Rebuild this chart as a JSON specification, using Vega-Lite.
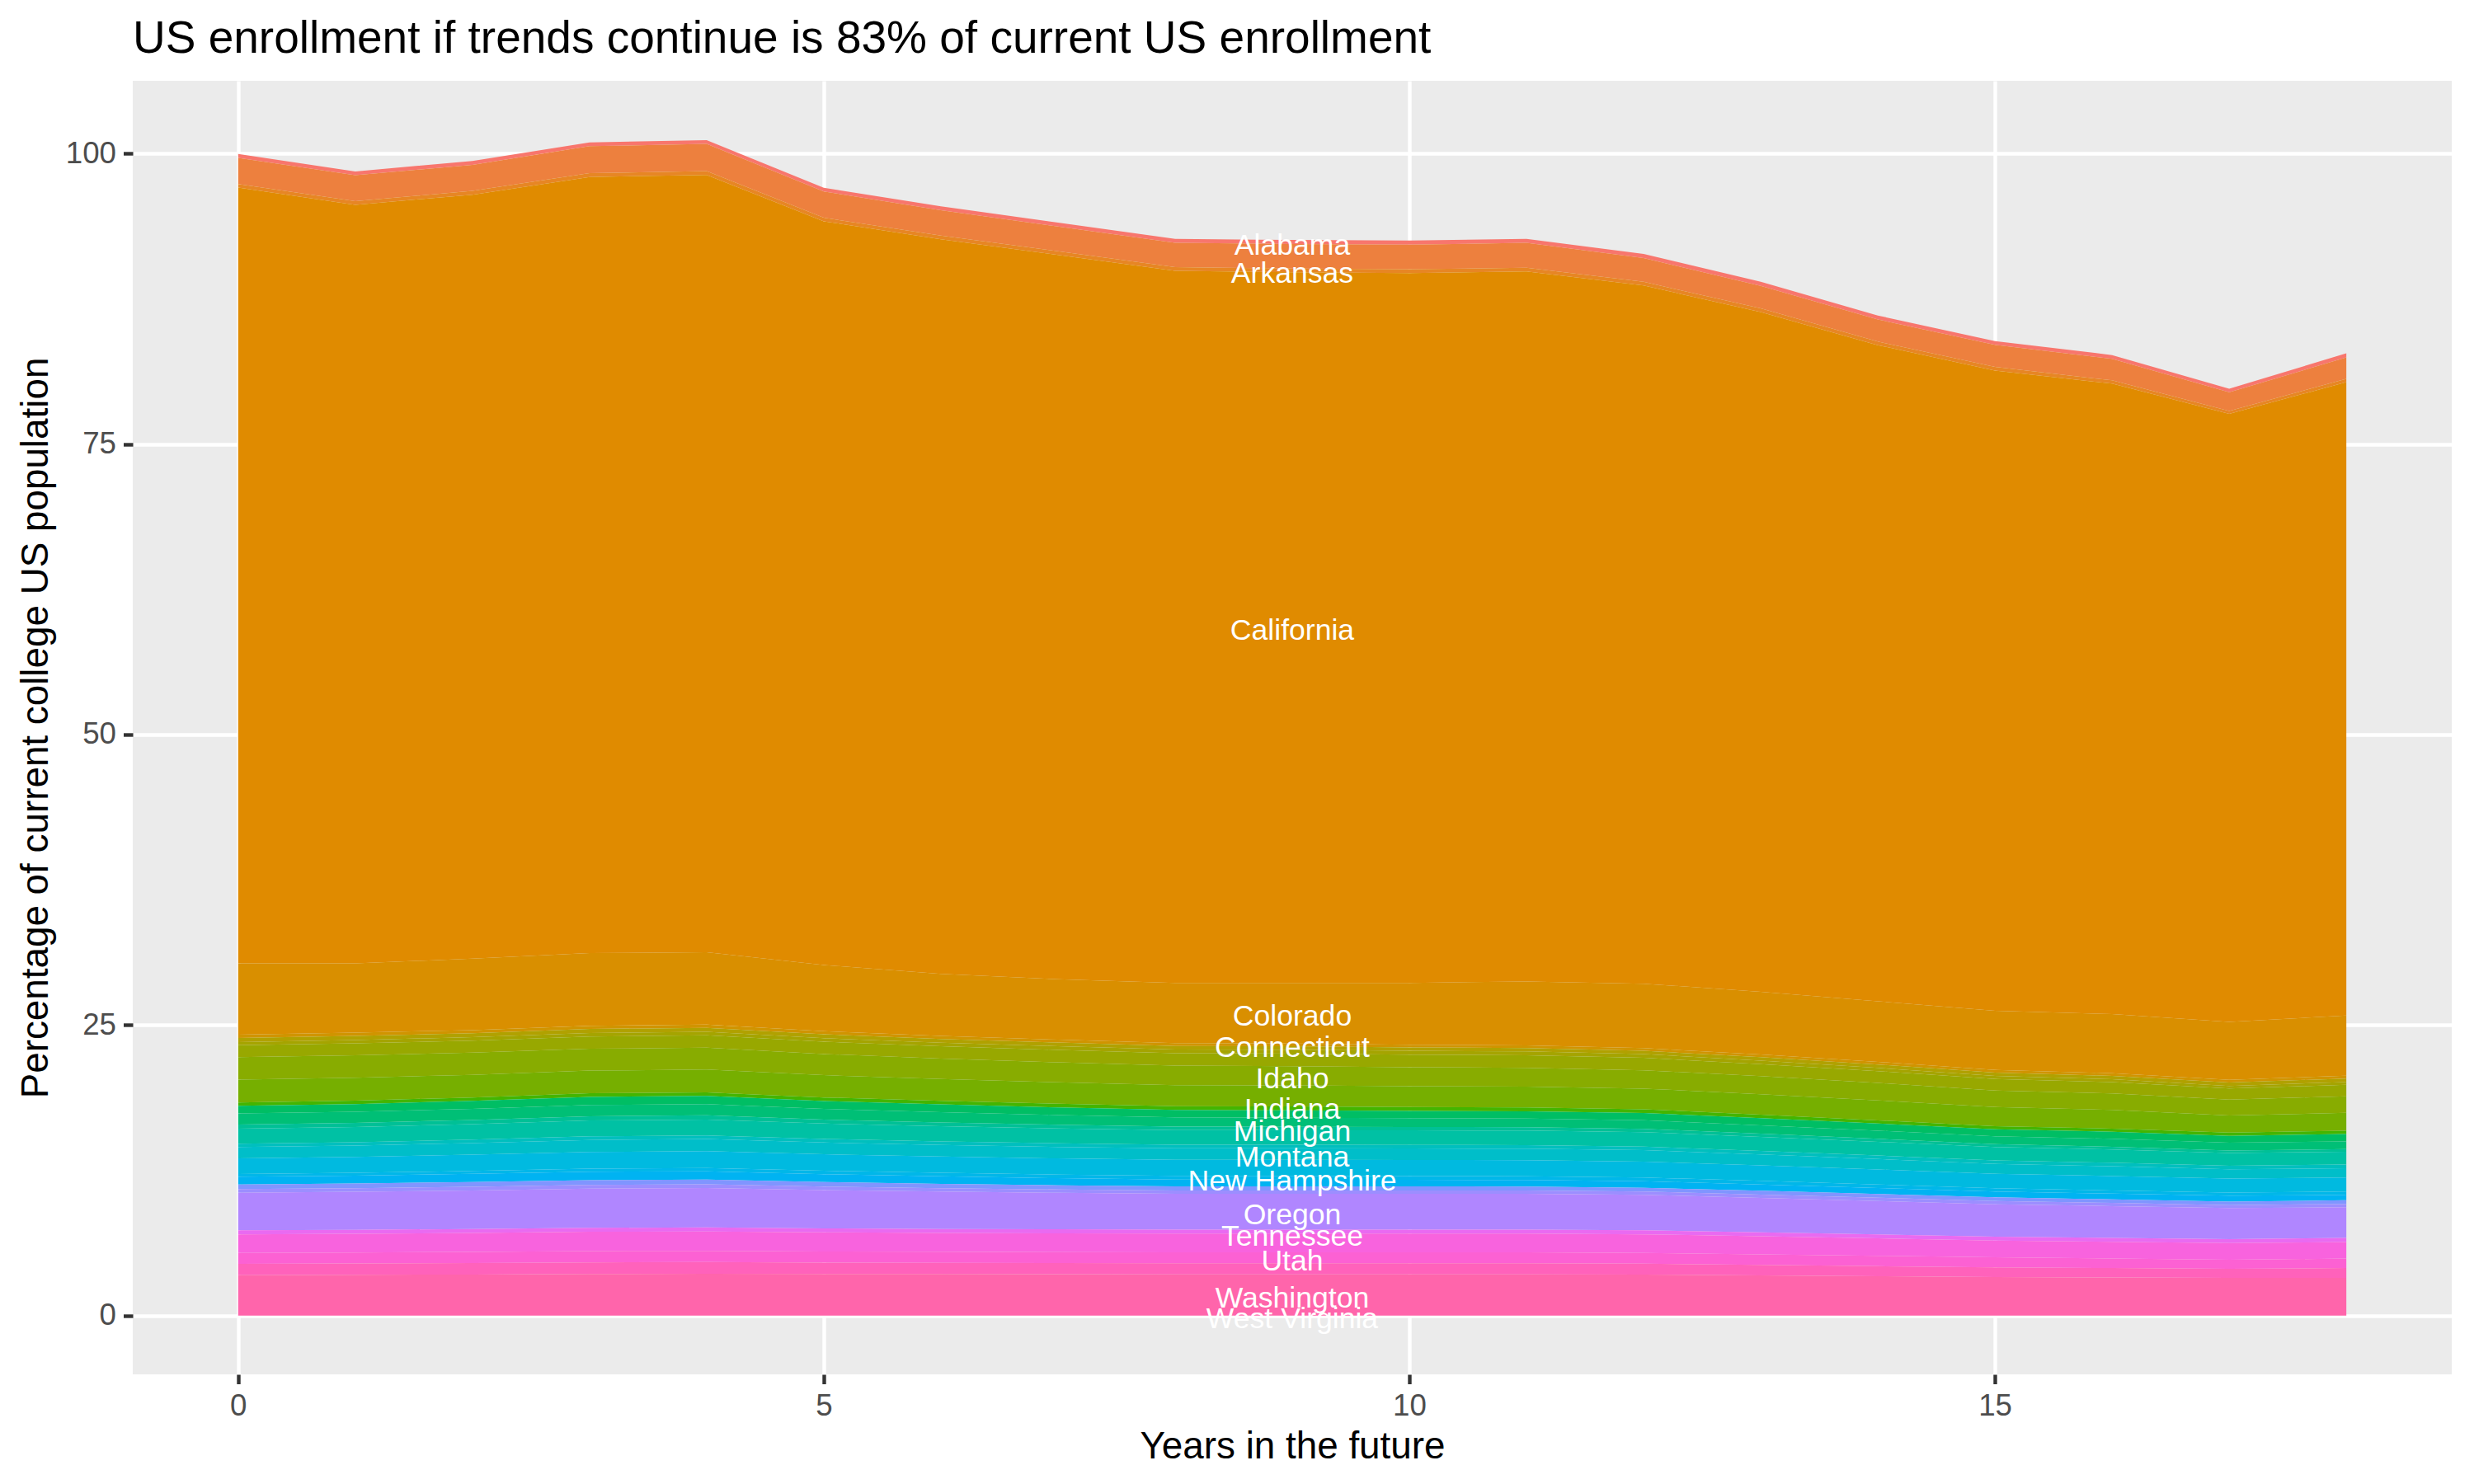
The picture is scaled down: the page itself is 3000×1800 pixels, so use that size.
{
  "$schema": "https://vega.github.io/schema/vega-lite/v6.json",
  "width": 2812,
  "height": 1569,
  "autosize": {"type": "none"},
  "padding": {"left": 161, "top": 98, "right": 27, "bottom": 133},
  "background": "white",
  "config": {
    "view": {"fill": "#EBEBEB", "stroke": null},
    "font": "Liberation Sans",
    "axis": {
      "labelFont": "Liberation Sans",
      "titleFont": "Liberation Sans",
      "labelFontSize": 36.7,
      "labelColor": "#4D4D4D",
      "titleFontSize": 45.8,
      "titleFontWeight": "normal",
      "titleColor": "black",
      "tickColor": "#333333",
      "tickSize": 11.5,
      "tickWidth": 4.4,
      "labelPadding": 9,
      "domain": false,
      "grid": true,
      "gridColor": "white",
      "gridWidth": 4.4
    }
  },
  "title": {
    "text": "US enrollment if trends continue is 83% of current US enrollment",
    "anchor": "start",
    "frame": "group",
    "font": "Liberation Sans",
    "fontSize": 55,
    "fontWeight": "normal",
    "color": "black",
    "baseline": "alphabetic",
    "offset": 34.5,
    "dy": 55
  },
  "data": {
    "values": [
      {"state": "Alabama", "year": 0, "pct": 0.33}, {"state": "Alabama", "year": 1, "pct": 0.33}, {"state": "Alabama", "year": 2, "pct": 0.33}, {"state": "Alabama", "year": 3, "pct": 0.33}, {"state": "Alabama", "year": 4, "pct": 0.33}, {"state": "Alabama", "year": 5, "pct": 0.33}, {"state": "Alabama", "year": 6, "pct": 0.34}, {"state": "Alabama", "year": 7, "pct": 0.34}, {"state": "Alabama", "year": 8, "pct": 0.35}, {"state": "Alabama", "year": 9, "pct": 0.35}, {"state": "Alabama", "year": 10, "pct": 0.35}, {"state": "Alabama", "year": 11, "pct": 0.35}, {"state": "Alabama", "year": 12, "pct": 0.35}, {"state": "Alabama", "year": 13, "pct": 0.35}, {"state": "Alabama", "year": 14, "pct": 0.34}, {"state": "Alabama", "year": 15, "pct": 0.33}, {"state": "Alabama", "year": 16, "pct": 0.33}, {"state": "Alabama", "year": 17, "pct": 0.31}, {"state": "Alabama", "year": 18, "pct": 0.35},
      {"state": "Arizona", "year": 0, "pct": 2.25}, {"state": "Arizona", "year": 1, "pct": 2.22}, {"state": "Arizona", "year": 2, "pct": 2.25}, {"state": "Arizona", "year": 3, "pct": 2.32}, {"state": "Arizona", "year": 4, "pct": 2.34}, {"state": "Arizona", "year": 5, "pct": 2.25}, {"state": "Arizona", "year": 6, "pct": 2.18}, {"state": "Arizona", "year": 7, "pct": 2.12}, {"state": "Arizona", "year": 8, "pct": 2.08}, {"state": "Arizona", "year": 9, "pct": 2.1}, {"state": "Arizona", "year": 10, "pct": 2.12}, {"state": "Arizona", "year": 11, "pct": 2.13}, {"state": "Arizona", "year": 12, "pct": 2.05}, {"state": "Arizona", "year": 13, "pct": 1.94}, {"state": "Arizona", "year": 14, "pct": 1.9}, {"state": "Arizona", "year": 15, "pct": 1.89}, {"state": "Arizona", "year": 16, "pct": 1.85}, {"state": "Arizona", "year": 17, "pct": 1.6}, {"state": "Arizona", "year": 18, "pct": 1.85},
      {"state": "Arkansas", "year": 0, "pct": 0.31}, {"state": "Arkansas", "year": 1, "pct": 0.33}, {"state": "Arkansas", "year": 2, "pct": 0.32}, {"state": "Arkansas", "year": 3, "pct": 0.33}, {"state": "Arkansas", "year": 4, "pct": 0.33}, {"state": "Arkansas", "year": 5, "pct": 0.31}, {"state": "Arkansas", "year": 6, "pct": 0.32}, {"state": "Arkansas", "year": 7, "pct": 0.33}, {"state": "Arkansas", "year": 8, "pct": 0.33}, {"state": "Arkansas", "year": 9, "pct": 0.33}, {"state": "Arkansas", "year": 10, "pct": 0.33}, {"state": "Arkansas", "year": 11, "pct": 0.33}, {"state": "Arkansas", "year": 12, "pct": 0.32}, {"state": "Arkansas", "year": 13, "pct": 0.31}, {"state": "Arkansas", "year": 14, "pct": 0.31}, {"state": "Arkansas", "year": 15, "pct": 0.31}, {"state": "Arkansas", "year": 16, "pct": 0.28}, {"state": "Arkansas", "year": 17, "pct": 0.26}, {"state": "Arkansas", "year": 18, "pct": 0.28},
      {"state": "California", "year": 0, "pct": 66.76}, {"state": "California", "year": 1, "pct": 65.27}, {"state": "California", "year": 2, "pct": 65.75}, {"state": "California", "year": 3, "pct": 66.79}, {"state": "California", "year": 4, "pct": 66.9}, {"state": "California", "year": 5, "pct": 64.0}, {"state": "California", "year": 6, "pct": 63.21}, {"state": "California", "year": 7, "pct": 62.33}, {"state": "California", "year": 8, "pct": 61.27}, {"state": "California", "year": 9, "pct": 61.15}, {"state": "California", "year": 10, "pct": 61.08}, {"state": "California", "year": 11, "pct": 61.1}, {"state": "California", "year": 12, "pct": 60.08}, {"state": "California", "year": 13, "pct": 58.5}, {"state": "California", "year": 14, "pct": 56.46}, {"state": "California", "year": 15, "pct": 55.11}, {"state": "California", "year": 16, "pct": 54.26}, {"state": "California", "year": 17, "pct": 52.32}, {"state": "California", "year": 18, "pct": 54.51},
      {"state": "Colorado", "year": 0, "pct": 6.13}, {"state": "Colorado", "year": 1, "pct": 5.96}, {"state": "Colorado", "year": 2, "pct": 6.14}, {"state": "Colorado", "year": 3, "pct": 6.25}, {"state": "Colorado", "year": 4, "pct": 6.22}, {"state": "Colorado", "year": 5, "pct": 5.7}, {"state": "Colorado", "year": 6, "pct": 5.35}, {"state": "Colorado", "year": 7, "pct": 5.2}, {"state": "Colorado", "year": 8, "pct": 5.19}, {"state": "Colorado", "year": 9, "pct": 5.22}, {"state": "Colorado", "year": 10, "pct": 5.32}, {"state": "Colorado", "year": 11, "pct": 5.5}, {"state": "Colorado", "year": 12, "pct": 5.54}, {"state": "Colorado", "year": 13, "pct": 5.4}, {"state": "Colorado", "year": 14, "pct": 5.22}, {"state": "Colorado", "year": 15, "pct": 5.08}, {"state": "Colorado", "year": 16, "pct": 5.08}, {"state": "Colorado", "year": 17, "pct": 4.99}, {"state": "Colorado", "year": 18, "pct": 5.18},
      {"state": "Connecticut", "year": 0, "pct": 0.29}, {"state": "Connecticut", "year": 1, "pct": 0.29}, {"state": "Connecticut", "year": 2, "pct": 0.28}, {"state": "Connecticut", "year": 3, "pct": 0.28}, {"state": "Connecticut", "year": 4, "pct": 0.28}, {"state": "Connecticut", "year": 5, "pct": 0.27}, {"state": "Connecticut", "year": 6, "pct": 0.26}, {"state": "Connecticut", "year": 7, "pct": 0.25}, {"state": "Connecticut", "year": 8, "pct": 0.24}, {"state": "Connecticut", "year": 9, "pct": 0.24}, {"state": "Connecticut", "year": 10, "pct": 0.23}, {"state": "Connecticut", "year": 11, "pct": 0.23}, {"state": "Connecticut", "year": 12, "pct": 0.23}, {"state": "Connecticut", "year": 13, "pct": 0.23}, {"state": "Connecticut", "year": 14, "pct": 0.23}, {"state": "Connecticut", "year": 15, "pct": 0.23}, {"state": "Connecticut", "year": 16, "pct": 0.23}, {"state": "Connecticut", "year": 17, "pct": 0.23}, {"state": "Connecticut", "year": 18, "pct": 0.24},
      {"state": "Florida", "year": 0, "pct": 0.35}, {"state": "Florida", "year": 1, "pct": 0.35}, {"state": "Florida", "year": 2, "pct": 0.34}, {"state": "Florida", "year": 3, "pct": 0.34}, {"state": "Florida", "year": 4, "pct": 0.34}, {"state": "Florida", "year": 5, "pct": 0.33}, {"state": "Florida", "year": 6, "pct": 0.32}, {"state": "Florida", "year": 7, "pct": 0.31}, {"state": "Florida", "year": 8, "pct": 0.3}, {"state": "Florida", "year": 9, "pct": 0.3}, {"state": "Florida", "year": 10, "pct": 0.3}, {"state": "Florida", "year": 11, "pct": 0.29}, {"state": "Florida", "year": 12, "pct": 0.29}, {"state": "Florida", "year": 13, "pct": 0.29}, {"state": "Florida", "year": 14, "pct": 0.29}, {"state": "Florida", "year": 15, "pct": 0.29}, {"state": "Florida", "year": 16, "pct": 0.29}, {"state": "Florida", "year": 17, "pct": 0.29}, {"state": "Florida", "year": 18, "pct": 0.3},
      {"state": "Georgia", "year": 0, "pct": 0.28}, {"state": "Georgia", "year": 1, "pct": 0.28}, {"state": "Georgia", "year": 2, "pct": 0.29}, {"state": "Georgia", "year": 3, "pct": 0.3}, {"state": "Georgia", "year": 4, "pct": 0.3}, {"state": "Georgia", "year": 5, "pct": 0.3}, {"state": "Georgia", "year": 6, "pct": 0.31}, {"state": "Georgia", "year": 7, "pct": 0.32}, {"state": "Georgia", "year": 8, "pct": 0.32}, {"state": "Georgia", "year": 9, "pct": 0.33}, {"state": "Georgia", "year": 10, "pct": 0.33}, {"state": "Georgia", "year": 11, "pct": 0.33}, {"state": "Georgia", "year": 12, "pct": 0.32}, {"state": "Georgia", "year": 13, "pct": 0.3}, {"state": "Georgia", "year": 14, "pct": 0.28}, {"state": "Georgia", "year": 15, "pct": 0.26}, {"state": "Georgia", "year": 16, "pct": 0.25}, {"state": "Georgia", "year": 17, "pct": 0.22}, {"state": "Georgia", "year": 18, "pct": 0.24},
      {"state": "Hawaii", "year": 0, "pct": 1.02}, {"state": "Hawaii", "year": 1, "pct": 1.03}, {"state": "Hawaii", "year": 2, "pct": 1.04}, {"state": "Hawaii", "year": 3, "pct": 1.06}, {"state": "Hawaii", "year": 4, "pct": 1.07}, {"state": "Hawaii", "year": 5, "pct": 1.06}, {"state": "Hawaii", "year": 6, "pct": 1.06}, {"state": "Hawaii", "year": 7, "pct": 1.07}, {"state": "Hawaii", "year": 8, "pct": 1.07}, {"state": "Hawaii", "year": 9, "pct": 1.08}, {"state": "Hawaii", "year": 10, "pct": 1.08}, {"state": "Hawaii", "year": 11, "pct": 1.08}, {"state": "Hawaii", "year": 12, "pct": 1.07}, {"state": "Hawaii", "year": 13, "pct": 1.04}, {"state": "Hawaii", "year": 14, "pct": 1.01}, {"state": "Hawaii", "year": 15, "pct": 0.99}, {"state": "Hawaii", "year": 16, "pct": 0.98}, {"state": "Hawaii", "year": 17, "pct": 0.95}, {"state": "Hawaii", "year": 18, "pct": 0.99},
      {"state": "Idaho", "year": 0, "pct": 1.94}, {"state": "Idaho", "year": 1, "pct": 1.93}, {"state": "Idaho", "year": 2, "pct": 1.9}, {"state": "Idaho", "year": 3, "pct": 1.88}, {"state": "Idaho", "year": 4, "pct": 1.88}, {"state": "Idaho", "year": 5, "pct": 1.82}, {"state": "Idaho", "year": 6, "pct": 1.76}, {"state": "Idaho", "year": 7, "pct": 1.72}, {"state": "Idaho", "year": 8, "pct": 1.68}, {"state": "Idaho", "year": 9, "pct": 1.66}, {"state": "Idaho", "year": 10, "pct": 1.63}, {"state": "Idaho", "year": 11, "pct": 1.61}, {"state": "Idaho", "year": 12, "pct": 1.58}, {"state": "Idaho", "year": 13, "pct": 1.55}, {"state": "Idaho", "year": 14, "pct": 1.5}, {"state": "Idaho", "year": 15, "pct": 1.42}, {"state": "Idaho", "year": 16, "pct": 1.42}, {"state": "Idaho", "year": 17, "pct": 1.37}, {"state": "Idaho", "year": 18, "pct": 1.43},
      {"state": "Illinois", "year": 0, "pct": 1.97}, {"state": "Illinois", "year": 1, "pct": 1.98}, {"state": "Illinois", "year": 2, "pct": 1.95}, {"state": "Illinois", "year": 3, "pct": 1.95}, {"state": "Illinois", "year": 4, "pct": 1.96}, {"state": "Illinois", "year": 5, "pct": 1.92}, {"state": "Illinois", "year": 6, "pct": 1.87}, {"state": "Illinois", "year": 7, "pct": 1.84}, {"state": "Illinois", "year": 8, "pct": 1.82}, {"state": "Illinois", "year": 9, "pct": 1.81}, {"state": "Illinois", "year": 10, "pct": 1.8}, {"state": "Illinois", "year": 11, "pct": 1.8}, {"state": "Illinois", "year": 12, "pct": 1.78}, {"state": "Illinois", "year": 13, "pct": 1.76}, {"state": "Illinois", "year": 14, "pct": 1.72}, {"state": "Illinois", "year": 15, "pct": 1.66}, {"state": "Illinois", "year": 16, "pct": 1.6}, {"state": "Illinois", "year": 17, "pct": 1.47}, {"state": "Illinois", "year": 18, "pct": 1.53},
      {"state": "Indiana", "year": 0, "pct": 0}, {"state": "Indiana", "year": 1, "pct": 0}, {"state": "Indiana", "year": 2, "pct": 0}, {"state": "Indiana", "year": 3, "pct": 0}, {"state": "Indiana", "year": 4, "pct": 0}, {"state": "Indiana", "year": 5, "pct": 0}, {"state": "Indiana", "year": 6, "pct": 0}, {"state": "Indiana", "year": 7, "pct": 0}, {"state": "Indiana", "year": 8, "pct": 0}, {"state": "Indiana", "year": 9, "pct": 0}, {"state": "Indiana", "year": 10, "pct": 0}, {"state": "Indiana", "year": 11, "pct": 0}, {"state": "Indiana", "year": 12, "pct": 0}, {"state": "Indiana", "year": 13, "pct": 0}, {"state": "Indiana", "year": 14, "pct": 0}, {"state": "Indiana", "year": 15, "pct": 0}, {"state": "Indiana", "year": 16, "pct": 0}, {"state": "Indiana", "year": 17, "pct": 0}, {"state": "Indiana", "year": 18, "pct": 0},
      {"state": "Iowa", "year": 0, "pct": 0.28}, {"state": "Iowa", "year": 1, "pct": 0.29}, {"state": "Iowa", "year": 2, "pct": 0.3}, {"state": "Iowa", "year": 3, "pct": 0.31}, {"state": "Iowa", "year": 4, "pct": 0.31}, {"state": "Iowa", "year": 5, "pct": 0.31}, {"state": "Iowa", "year": 6, "pct": 0.31}, {"state": "Iowa", "year": 7, "pct": 0.32}, {"state": "Iowa", "year": 8, "pct": 0.32}, {"state": "Iowa", "year": 9, "pct": 0.33}, {"state": "Iowa", "year": 10, "pct": 0.33}, {"state": "Iowa", "year": 11, "pct": 0.33}, {"state": "Iowa", "year": 12, "pct": 0.32}, {"state": "Iowa", "year": 13, "pct": 0.3}, {"state": "Iowa", "year": 14, "pct": 0.28}, {"state": "Iowa", "year": 15, "pct": 0.26}, {"state": "Iowa", "year": 16, "pct": 0.27}, {"state": "Iowa", "year": 17, "pct": 0.28}, {"state": "Iowa", "year": 18, "pct": 0.29},
      {"state": "Maine", "year": 0, "pct": 0.66}, {"state": "Maine", "year": 1, "pct": 0.67}, {"state": "Maine", "year": 2, "pct": 0.68}, {"state": "Maine", "year": 3, "pct": 0.7}, {"state": "Maine", "year": 4, "pct": 0.7}, {"state": "Maine", "year": 5, "pct": 0.68}, {"state": "Maine", "year": 6, "pct": 0.67}, {"state": "Maine", "year": 7, "pct": 0.65}, {"state": "Maine", "year": 8, "pct": 0.63}, {"state": "Maine", "year": 9, "pct": 0.63}, {"state": "Maine", "year": 10, "pct": 0.62}, {"state": "Maine", "year": 11, "pct": 0.62}, {"state": "Maine", "year": 12, "pct": 0.62}, {"state": "Maine", "year": 13, "pct": 0.62}, {"state": "Maine", "year": 14, "pct": 0.61}, {"state": "Maine", "year": 15, "pct": 0.6}, {"state": "Maine", "year": 16, "pct": 0.61}, {"state": "Maine", "year": 17, "pct": 0.6}, {"state": "Maine", "year": 18, "pct": 0.64},
      {"state": "Maryland", "year": 0, "pct": 0.95}, {"state": "Maryland", "year": 1, "pct": 0.95}, {"state": "Maryland", "year": 2, "pct": 0.96}, {"state": "Maryland", "year": 3, "pct": 0.97}, {"state": "Maryland", "year": 4, "pct": 0.97}, {"state": "Maryland", "year": 5, "pct": 0.92}, {"state": "Maryland", "year": 6, "pct": 0.88}, {"state": "Maryland", "year": 7, "pct": 0.84}, {"state": "Maryland", "year": 8, "pct": 0.8}, {"state": "Maryland", "year": 9, "pct": 0.78}, {"state": "Maryland", "year": 10, "pct": 0.76}, {"state": "Maryland", "year": 11, "pct": 0.75}, {"state": "Maryland", "year": 12, "pct": 0.74}, {"state": "Maryland", "year": 13, "pct": 0.72}, {"state": "Maryland", "year": 14, "pct": 0.7}, {"state": "Maryland", "year": 15, "pct": 0.68}, {"state": "Maryland", "year": 16, "pct": 0.68}, {"state": "Maryland", "year": 17, "pct": 0.66}, {"state": "Maryland", "year": 18, "pct": 0.66},
      {"state": "Michigan", "year": 0, "pct": 0.35}, {"state": "Michigan", "year": 1, "pct": 0.35}, {"state": "Michigan", "year": 2, "pct": 0.35}, {"state": "Michigan", "year": 3, "pct": 0.36}, {"state": "Michigan", "year": 4, "pct": 0.36}, {"state": "Michigan", "year": 5, "pct": 0.34}, {"state": "Michigan", "year": 6, "pct": 0.33}, {"state": "Michigan", "year": 7, "pct": 0.32}, {"state": "Michigan", "year": 8, "pct": 0.3}, {"state": "Michigan", "year": 9, "pct": 0.3}, {"state": "Michigan", "year": 10, "pct": 0.29}, {"state": "Michigan", "year": 11, "pct": 0.29}, {"state": "Michigan", "year": 12, "pct": 0.28}, {"state": "Michigan", "year": 13, "pct": 0.27}, {"state": "Michigan", "year": 14, "pct": 0.26}, {"state": "Michigan", "year": 15, "pct": 0.25}, {"state": "Michigan", "year": 16, "pct": 0.24}, {"state": "Michigan", "year": 17, "pct": 0.22}, {"state": "Michigan", "year": 18, "pct": 0.22},
      {"state": "Minnesota", "year": 0, "pct": 1.3}, {"state": "Minnesota", "year": 1, "pct": 1.31}, {"state": "Minnesota", "year": 2, "pct": 1.34}, {"state": "Minnesota", "year": 3, "pct": 1.37}, {"state": "Minnesota", "year": 4, "pct": 1.37}, {"state": "Minnesota", "year": 5, "pct": 1.32}, {"state": "Minnesota", "year": 6, "pct": 1.3}, {"state": "Minnesota", "year": 7, "pct": 1.28}, {"state": "Minnesota", "year": 8, "pct": 1.26}, {"state": "Minnesota", "year": 9, "pct": 1.25}, {"state": "Minnesota", "year": 10, "pct": 1.25}, {"state": "Minnesota", "year": 11, "pct": 1.25}, {"state": "Minnesota", "year": 12, "pct": 1.25}, {"state": "Minnesota", "year": 13, "pct": 1.21}, {"state": "Minnesota", "year": 14, "pct": 1.18}, {"state": "Minnesota", "year": 15, "pct": 1.15}, {"state": "Minnesota", "year": 16, "pct": 1.14}, {"state": "Minnesota", "year": 17, "pct": 1.1}, {"state": "Minnesota", "year": 18, "pct": 1.11},
      {"state": "Missouri", "year": 0, "pct": 0.29}, {"state": "Missouri", "year": 1, "pct": 0.29}, {"state": "Missouri", "year": 2, "pct": 0.3}, {"state": "Missouri", "year": 3, "pct": 0.31}, {"state": "Missouri", "year": 4, "pct": 0.31}, {"state": "Missouri", "year": 5, "pct": 0.31}, {"state": "Missouri", "year": 6, "pct": 0.31}, {"state": "Missouri", "year": 7, "pct": 0.31}, {"state": "Missouri", "year": 8, "pct": 0.31}, {"state": "Missouri", "year": 9, "pct": 0.31}, {"state": "Missouri", "year": 10, "pct": 0.31}, {"state": "Missouri", "year": 11, "pct": 0.31}, {"state": "Missouri", "year": 12, "pct": 0.31}, {"state": "Missouri", "year": 13, "pct": 0.31}, {"state": "Missouri", "year": 14, "pct": 0.3}, {"state": "Missouri", "year": 15, "pct": 0.3}, {"state": "Missouri", "year": 16, "pct": 0.3}, {"state": "Missouri", "year": 17, "pct": 0.3}, {"state": "Missouri", "year": 18, "pct": 0.31},
      {"state": "Montana", "year": 0, "pct": 0.97}, {"state": "Montana", "year": 1, "pct": 0.98}, {"state": "Montana", "year": 2, "pct": 1.0}, {"state": "Montana", "year": 3, "pct": 1.03}, {"state": "Montana", "year": 4, "pct": 1.04}, {"state": "Montana", "year": 5, "pct": 1.01}, {"state": "Montana", "year": 6, "pct": 1.0}, {"state": "Montana", "year": 7, "pct": 0.99}, {"state": "Montana", "year": 8, "pct": 0.99}, {"state": "Montana", "year": 9, "pct": 0.99}, {"state": "Montana", "year": 10, "pct": 0.99}, {"state": "Montana", "year": 11, "pct": 0.99}, {"state": "Montana", "year": 12, "pct": 0.98}, {"state": "Montana", "year": 13, "pct": 0.94}, {"state": "Montana", "year": 14, "pct": 0.9}, {"state": "Montana", "year": 15, "pct": 0.85}, {"state": "Montana", "year": 16, "pct": 0.84}, {"state": "Montana", "year": 17, "pct": 0.8}, {"state": "Montana", "year": 18, "pct": 0.8},
      {"state": "Nevada", "year": 0, "pct": 1.35}, {"state": "Nevada", "year": 1, "pct": 1.37}, {"state": "Nevada", "year": 2, "pct": 1.4}, {"state": "Nevada", "year": 3, "pct": 1.44}, {"state": "Nevada", "year": 4, "pct": 1.45}, {"state": "Nevada", "year": 5, "pct": 1.42}, {"state": "Nevada", "year": 6, "pct": 1.4}, {"state": "Nevada", "year": 7, "pct": 1.39}, {"state": "Nevada", "year": 8, "pct": 1.38}, {"state": "Nevada", "year": 9, "pct": 1.38}, {"state": "Nevada", "year": 10, "pct": 1.38}, {"state": "Nevada", "year": 11, "pct": 1.38}, {"state": "Nevada", "year": 12, "pct": 1.37}, {"state": "Nevada", "year": 13, "pct": 1.33}, {"state": "Nevada", "year": 14, "pct": 1.29}, {"state": "Nevada", "year": 15, "pct": 1.25}, {"state": "Nevada", "year": 16, "pct": 1.24}, {"state": "Nevada", "year": 17, "pct": 1.2}, {"state": "Nevada", "year": 18, "pct": 1.21},
      {"state": "New Hampshire", "year": 0, "pct": 0.23}, {"state": "New Hampshire", "year": 1, "pct": 0.24}, {"state": "New Hampshire", "year": 2, "pct": 0.25}, {"state": "New Hampshire", "year": 3, "pct": 0.27}, {"state": "New Hampshire", "year": 4, "pct": 0.28}, {"state": "New Hampshire", "year": 5, "pct": 0.29}, {"state": "New Hampshire", "year": 6, "pct": 0.3}, {"state": "New Hampshire", "year": 7, "pct": 0.31}, {"state": "New Hampshire", "year": 8, "pct": 0.32}, {"state": "New Hampshire", "year": 9, "pct": 0.33}, {"state": "New Hampshire", "year": 10, "pct": 0.33}, {"state": "New Hampshire", "year": 11, "pct": 0.33}, {"state": "New Hampshire", "year": 12, "pct": 0.32}, {"state": "New Hampshire", "year": 13, "pct": 0.31}, {"state": "New Hampshire", "year": 14, "pct": 0.3}, {"state": "New Hampshire", "year": 15, "pct": 0.28}, {"state": "New Hampshire", "year": 16, "pct": 0.28}, {"state": "New Hampshire", "year": 17, "pct": 0.28}, {"state": "New Hampshire", "year": 18, "pct": 0.28},
      {"state": "New Jersey", "year": 0, "pct": 0.67}, {"state": "New Jersey", "year": 1, "pct": 0.68}, {"state": "New Jersey", "year": 2, "pct": 0.7}, {"state": "New Jersey", "year": 3, "pct": 0.72}, {"state": "New Jersey", "year": 4, "pct": 0.72}, {"state": "New Jersey", "year": 5, "pct": 0.68}, {"state": "New Jersey", "year": 6, "pct": 0.65}, {"state": "New Jersey", "year": 7, "pct": 0.61}, {"state": "New Jersey", "year": 8, "pct": 0.58}, {"state": "New Jersey", "year": 9, "pct": 0.57}, {"state": "New Jersey", "year": 10, "pct": 0.56}, {"state": "New Jersey", "year": 11, "pct": 0.56}, {"state": "New Jersey", "year": 12, "pct": 0.56}, {"state": "New Jersey", "year": 13, "pct": 0.54}, {"state": "New Jersey", "year": 14, "pct": 0.52}, {"state": "New Jersey", "year": 15, "pct": 0.49}, {"state": "New Jersey", "year": 16, "pct": 0.49}, {"state": "New Jersey", "year": 17, "pct": 0.5}, {"state": "New Jersey", "year": 18, "pct": 0.47},
      {"state": "Ohio", "year": 0, "pct": 0.4}, {"state": "Ohio", "year": 1, "pct": 0.4}, {"state": "Ohio", "year": 2, "pct": 0.41}, {"state": "Ohio", "year": 3, "pct": 0.41}, {"state": "Ohio", "year": 4, "pct": 0.41}, {"state": "Ohio", "year": 5, "pct": 0.39}, {"state": "Ohio", "year": 6, "pct": 0.37}, {"state": "Ohio", "year": 7, "pct": 0.36}, {"state": "Ohio", "year": 8, "pct": 0.35}, {"state": "Ohio", "year": 9, "pct": 0.35}, {"state": "Ohio", "year": 10, "pct": 0.35}, {"state": "Ohio", "year": 11, "pct": 0.34}, {"state": "Ohio", "year": 12, "pct": 0.33}, {"state": "Ohio", "year": 13, "pct": 0.33}, {"state": "Ohio", "year": 14, "pct": 0.32}, {"state": "Ohio", "year": 15, "pct": 0.32}, {"state": "Ohio", "year": 16, "pct": 0.31}, {"state": "Ohio", "year": 17, "pct": 0.3}, {"state": "Ohio", "year": 18, "pct": 0.32},
      {"state": "Oklahoma", "year": 0, "pct": 0.31}, {"state": "Oklahoma", "year": 1, "pct": 0.31}, {"state": "Oklahoma", "year": 2, "pct": 0.31}, {"state": "Oklahoma", "year": 3, "pct": 0.31}, {"state": "Oklahoma", "year": 4, "pct": 0.31}, {"state": "Oklahoma", "year": 5, "pct": 0.3}, {"state": "Oklahoma", "year": 6, "pct": 0.29}, {"state": "Oklahoma", "year": 7, "pct": 0.29}, {"state": "Oklahoma", "year": 8, "pct": 0.29}, {"state": "Oklahoma", "year": 9, "pct": 0.29}, {"state": "Oklahoma", "year": 10, "pct": 0.29}, {"state": "Oklahoma", "year": 11, "pct": 0.28}, {"state": "Oklahoma", "year": 12, "pct": 0.28}, {"state": "Oklahoma", "year": 13, "pct": 0.28}, {"state": "Oklahoma", "year": 14, "pct": 0.28}, {"state": "Oklahoma", "year": 15, "pct": 0.28}, {"state": "Oklahoma", "year": 16, "pct": 0.27}, {"state": "Oklahoma", "year": 17, "pct": 0.26}, {"state": "Oklahoma", "year": 18, "pct": 0.28},
      {"state": "Oregon", "year": 0, "pct": 3.24}, {"state": "Oregon", "year": 1, "pct": 3.27}, {"state": "Oregon", "year": 2, "pct": 3.32}, {"state": "Oregon", "year": 3, "pct": 3.38}, {"state": "Oregon", "year": 4, "pct": 3.4}, {"state": "Oregon", "year": 5, "pct": 3.3}, {"state": "Oregon", "year": 6, "pct": 3.22}, {"state": "Oregon", "year": 7, "pct": 3.14}, {"state": "Oregon", "year": 8, "pct": 3.08}, {"state": "Oregon", "year": 9, "pct": 3.08}, {"state": "Oregon", "year": 10, "pct": 3.08}, {"state": "Oregon", "year": 11, "pct": 3.08}, {"state": "Oregon", "year": 12, "pct": 3.05}, {"state": "Oregon", "year": 13, "pct": 2.97}, {"state": "Oregon", "year": 14, "pct": 2.88}, {"state": "Oregon", "year": 15, "pct": 2.79}, {"state": "Oregon", "year": 16, "pct": 2.74}, {"state": "Oregon", "year": 17, "pct": 2.68}, {"state": "Oregon", "year": 18, "pct": 2.64},
      {"state": "South Dakota", "year": 0, "pct": 0.35}, {"state": "South Dakota", "year": 1, "pct": 0.34}, {"state": "South Dakota", "year": 2, "pct": 0.34}, {"state": "South Dakota", "year": 3, "pct": 0.34}, {"state": "South Dakota", "year": 4, "pct": 0.34}, {"state": "South Dakota", "year": 5, "pct": 0.34}, {"state": "South Dakota", "year": 6, "pct": 0.34}, {"state": "South Dakota", "year": 7, "pct": 0.35}, {"state": "South Dakota", "year": 8, "pct": 0.35}, {"state": "South Dakota", "year": 9, "pct": 0.35}, {"state": "South Dakota", "year": 10, "pct": 0.35}, {"state": "South Dakota", "year": 11, "pct": 0.35}, {"state": "South Dakota", "year": 12, "pct": 0.35}, {"state": "South Dakota", "year": 13, "pct": 0.34}, {"state": "South Dakota", "year": 14, "pct": 0.34}, {"state": "South Dakota", "year": 15, "pct": 0.33}, {"state": "South Dakota", "year": 16, "pct": 0.33}, {"state": "South Dakota", "year": 17, "pct": 0.33}, {"state": "South Dakota", "year": 18, "pct": 0.36},
      {"state": "Tennessee", "year": 0, "pct": 0}, {"state": "Tennessee", "year": 1, "pct": 0}, {"state": "Tennessee", "year": 2, "pct": 0}, {"state": "Tennessee", "year": 3, "pct": 0}, {"state": "Tennessee", "year": 4, "pct": 0}, {"state": "Tennessee", "year": 5, "pct": 0}, {"state": "Tennessee", "year": 6, "pct": 0}, {"state": "Tennessee", "year": 7, "pct": 0}, {"state": "Tennessee", "year": 8, "pct": 0}, {"state": "Tennessee", "year": 9, "pct": 0}, {"state": "Tennessee", "year": 10, "pct": 0}, {"state": "Tennessee", "year": 11, "pct": 0}, {"state": "Tennessee", "year": 12, "pct": 0}, {"state": "Tennessee", "year": 13, "pct": 0}, {"state": "Tennessee", "year": 14, "pct": 0}, {"state": "Tennessee", "year": 15, "pct": 0}, {"state": "Tennessee", "year": 16, "pct": 0}, {"state": "Tennessee", "year": 17, "pct": 0}, {"state": "Tennessee", "year": 18, "pct": 0},
      {"state": "Texas", "year": 0, "pct": 1.59}, {"state": "Texas", "year": 1, "pct": 1.61}, {"state": "Texas", "year": 2, "pct": 1.63}, {"state": "Texas", "year": 3, "pct": 1.66}, {"state": "Texas", "year": 4, "pct": 1.67}, {"state": "Texas", "year": 5, "pct": 1.64}, {"state": "Texas", "year": 6, "pct": 1.62}, {"state": "Texas", "year": 7, "pct": 1.61}, {"state": "Texas", "year": 8, "pct": 1.61}, {"state": "Texas", "year": 9, "pct": 1.61}, {"state": "Texas", "year": 10, "pct": 1.61}, {"state": "Texas", "year": 11, "pct": 1.61}, {"state": "Texas", "year": 12, "pct": 1.6}, {"state": "Texas", "year": 13, "pct": 1.55}, {"state": "Texas", "year": 14, "pct": 1.5}, {"state": "Texas", "year": 15, "pct": 1.44}, {"state": "Texas", "year": 16, "pct": 1.44}, {"state": "Texas", "year": 17, "pct": 1.44}, {"state": "Texas", "year": 18, "pct": 1.42},
      {"state": "Utah", "year": 0, "pct": 0.94}, {"state": "Utah", "year": 1, "pct": 0.95}, {"state": "Utah", "year": 2, "pct": 0.96}, {"state": "Utah", "year": 3, "pct": 0.97}, {"state": "Utah", "year": 4, "pct": 0.97}, {"state": "Utah", "year": 5, "pct": 0.96}, {"state": "Utah", "year": 6, "pct": 0.95}, {"state": "Utah", "year": 7, "pct": 0.94}, {"state": "Utah", "year": 8, "pct": 0.94}, {"state": "Utah", "year": 9, "pct": 0.94}, {"state": "Utah", "year": 10, "pct": 0.94}, {"state": "Utah", "year": 11, "pct": 0.94}, {"state": "Utah", "year": 12, "pct": 0.93}, {"state": "Utah", "year": 13, "pct": 0.91}, {"state": "Utah", "year": 14, "pct": 0.89}, {"state": "Utah", "year": 15, "pct": 0.88}, {"state": "Utah", "year": 16, "pct": 0.82}, {"state": "Utah", "year": 17, "pct": 0.78}, {"state": "Utah", "year": 18, "pct": 0.81},
      {"state": "Virginia", "year": 0, "pct": 0.97}, {"state": "Virginia", "year": 1, "pct": 0.98}, {"state": "Virginia", "year": 2, "pct": 0.99}, {"state": "Virginia", "year": 3, "pct": 1.0}, {"state": "Virginia", "year": 4, "pct": 1.0}, {"state": "Virginia", "year": 5, "pct": 0.98}, {"state": "Virginia", "year": 6, "pct": 0.97}, {"state": "Virginia", "year": 7, "pct": 0.96}, {"state": "Virginia", "year": 8, "pct": 0.95}, {"state": "Virginia", "year": 9, "pct": 0.95}, {"state": "Virginia", "year": 10, "pct": 0.95}, {"state": "Virginia", "year": 11, "pct": 0.95}, {"state": "Virginia", "year": 12, "pct": 0.94}, {"state": "Virginia", "year": 13, "pct": 0.91}, {"state": "Virginia", "year": 14, "pct": 0.87}, {"state": "Virginia", "year": 15, "pct": 0.83}, {"state": "Virginia", "year": 16, "pct": 0.81}, {"state": "Virginia", "year": 17, "pct": 0.78}, {"state": "Virginia", "year": 18, "pct": 0.85},
      {"state": "Washington", "year": 0, "pct": 3.48}, {"state": "Washington", "year": 1, "pct": 3.5}, {"state": "Washington", "year": 2, "pct": 3.53}, {"state": "Washington", "year": 3, "pct": 3.58}, {"state": "Washington", "year": 4, "pct": 3.6}, {"state": "Washington", "year": 5, "pct": 3.58}, {"state": "Washington", "year": 6, "pct": 3.57}, {"state": "Washington", "year": 7, "pct": 3.56}, {"state": "Washington", "year": 8, "pct": 3.55}, {"state": "Washington", "year": 9, "pct": 3.55}, {"state": "Washington", "year": 10, "pct": 3.55}, {"state": "Washington", "year": 11, "pct": 3.55}, {"state": "Washington", "year": 12, "pct": 3.52}, {"state": "Washington", "year": 13, "pct": 3.45}, {"state": "Washington", "year": 14, "pct": 3.38}, {"state": "Washington", "year": 15, "pct": 3.31}, {"state": "Washington", "year": 16, "pct": 3.28}, {"state": "Washington", "year": 17, "pct": 3.24}, {"state": "Washington", "year": 18, "pct": 3.24},
      {"state": "West Virginia", "year": 0, "pct": 0}, {"state": "West Virginia", "year": 1, "pct": 0}, {"state": "West Virginia", "year": 2, "pct": 0}, {"state": "West Virginia", "year": 3, "pct": 0}, {"state": "West Virginia", "year": 4, "pct": 0}, {"state": "West Virginia", "year": 5, "pct": 0}, {"state": "West Virginia", "year": 6, "pct": 0}, {"state": "West Virginia", "year": 7, "pct": 0}, {"state": "West Virginia", "year": 8, "pct": 0}, {"state": "West Virginia", "year": 9, "pct": 0}, {"state": "West Virginia", "year": 10, "pct": 0}, {"state": "West Virginia", "year": 11, "pct": 0}, {"state": "West Virginia", "year": 12, "pct": 0}, {"state": "West Virginia", "year": 13, "pct": 0}, {"state": "West Virginia", "year": 14, "pct": 0}, {"state": "West Virginia", "year": 15, "pct": 0}, {"state": "West Virginia", "year": 16, "pct": 0}, {"state": "West Virginia", "year": 17, "pct": 0}, {"state": "West Virginia", "year": 18, "pct": 0}
    ]
  },
  "transform": [
    {"stack": "pct", "groupby": ["year"], "sort": [{"field": "state", "order": "descending"}], "as": ["lo", "hi"]}
  ],
  "layer": [
    {
      "mark": {"type": "area", "orient": "vertical"},
      "encoding": {
        "x": {
          "field": "year", "type": "quantitative",
          "scale": {"domain": [-0.9, 18.9], "nice": false, "zero": false},
          "axis": {"values": [0, 5, 10, 15], "title": "Years in the future", "titlePadding": 8}
        },
        "y": {
          "field": "hi", "type": "quantitative",
          "scale": {"domain": [-5.06, 106.26], "nice": false, "zero": false},
          "axis": {"values": [0, 25, 50, 75, 100], "title": "Percentage of current college US population", "titlePadding": 12}
        },
        "y2": {"field": "lo"},
        "color": {
          "field": "state", "type": "nominal", "legend": null,
          "scale": {
            "domain": ["Alabama", "Alaska", "Arizona", "Arkansas", "California", "Colorado", "Connecticut", "Delaware", "District of Columbia", "Florida", "Georgia", "Hawaii", "Idaho", "Illinois", "Indiana", "Iowa", "Kansas", "Kentucky", "Louisiana", "Maine", "Maryland", "Massachusetts", "Michigan", "Minnesota", "Mississippi", "Missouri", "Montana", "Nebraska", "Nevada", "New Hampshire", "New Jersey", "New Mexico", "New York", "North Carolina", "North Dakota", "Ohio", "Oklahoma", "Oregon", "Pennsylvania", "Rhode Island", "South Carolina", "South Dakota", "Tennessee", "Texas", "Utah", "Vermont", "Virginia", "Washington", "West Virginia", "Wisconsin", "Wyoming"],
            "range": ["#F8766D", "#F27B56", "#ED803E", "#E78624", "#E08B00", "#D98F00", "#D09400", "#C69900", "#BC9D00", "#B1A100", "#A5A400", "#98A800", "#88AC00", "#76AF00", "#60B200", "#44B500", "#22B817", "#00BA38", "#00BB51", "#00BE64", "#00BF76", "#00C087", "#00C096", "#00C1A4", "#00C0B0", "#00BFBE", "#00BEC9", "#00BCD4", "#00BAE0", "#00B7E9", "#00B3F2", "#00AEF9", "#05A8FF", "#2FA3FF", "#619CFF", "#8095FF", "#9C8EFF", "#B086FF", "#C27EFF", "#D277FD", "#DF70F9", "#E96AF1", "#F166E8", "#F863DE", "#FC61D3", "#FF61C7", "#FF62BB", "#FF65AB", "#FF6A99", "#FD6E89", "#FB727B"]
          }
        }
      }
    },
    {
      "transform": [
        {"filter": {"field": "year", "equal": 9}},
        {"filter": {"field": "state", "oneOf": ["Alabama", "Arkansas", "California", "Colorado", "Connecticut", "Idaho", "Indiana", "Michigan", "Montana", "New Hampshire", "Oregon", "Tennessee", "Utah", "Washington", "West Virginia"]}},
        {"fold": ["lo", "hi"], "as": ["edge", "pos"]},
        {"aggregate": [{"op": "mean", "field": "pos", "as": "mid"}], "groupby": ["state", "year"]}
      ],
      "mark": {"type": "text", "color": "white", "font": "Liberation Sans", "fontSize": 35.6, "align": "center", "baseline": "middle", "dy": 4},
      "encoding": {
        "x": {
          "field": "year", "type": "quantitative",
          "scale": {"domain": [-0.9, 18.9], "nice": false, "zero": false},
          "axis": {"values": [2.5, 7.5, 12.5, 17.5], "gridWidth": 2.2, "labels": false, "ticks": false, "title": null}
        },
        "y": {
          "field": "mid", "type": "quantitative",
          "scale": {"domain": [-5.06, 106.26], "nice": false, "zero": false},
          "axis": {"values": [12.5, 37.5, 62.5, 87.5], "gridWidth": 2.2, "labels": false, "ticks": false, "title": null}
        },
        "text": {"field": "state", "type": "nominal"}
      }
    }
  ],
  "resolve": {"axis": {"x": "independent", "y": "independent"}}
}
